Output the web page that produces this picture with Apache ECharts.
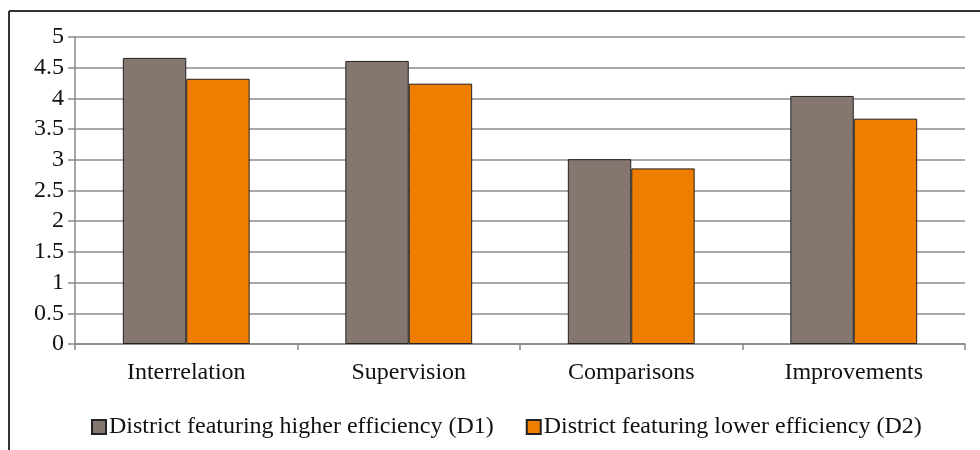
<!DOCTYPE html>
<html>
<head>
<meta charset="utf-8">
<script src="https://cdn.jsdelivr.net/npm/echarts@6/dist/echarts.min.js"></script>
<style>
  html, body { margin: 0; padding: 0; background: #fff; }
  #myChart { width: 980px; height: 450px; }
</style>
</head>
<body>
<div id="myChart"></div>
<script>
const categories = ['Interrelation', 'Supervision', 'Comparisons', 'Improvements'];
const seriesNames = ['District featuring higher efficiency (D1)', 'District featuring lower efficiency (D2)'];
const d1Values = [4.66, 4.61, 3.01, 4.04];
const d2Values = [4.32, 4.24, 2.86, 3.67];

const myChart = echarts.init(document.getElementById('myChart'));
const font = 'Liberation Serif';

const option = {
    animation: false,
    backgroundColor: '#fff',
    textStyle: { fontFamily: font },
    graphic: [
        // outer frame (top and left edges visible)
        { type: 'line', shape: { x1: 9, y1: 11, x2: 980, y2: 11 }, style: { stroke: '#333', lineWidth: 2 } },
        { type: 'line', shape: { x1: 9, y1: 11, x2: 9, y2: 450 }, style: { stroke: '#333', lineWidth: 2 } }
    ],
    grid: { left: 75, right: 15, top: 37, bottom: 106 },
    legend: {
        bottom: 6,
        left: 86,
        itemWidth: 14,
        itemHeight: 14,
        itemGap: 32,
        icon: 'rect',
        textStyle: { fontFamily: font, fontSize: 24, color: '#111', padding: [0, 0, 0, -2] }
    },
    xAxis: {
        type: 'category',
        data: categories,
        axisLine: { lineStyle: { color: '#888', width: 1.5 } },
        axisTick: { show: true, length: 6, lineStyle: { color: '#888', width: 1.5 } },
        axisLabel: { fontFamily: font, fontSize: 24, color: '#111', margin: 17 }
    },
    yAxis: {
        type: 'value',
        min: 0,
        max: 5,
        interval: 0.5,
        axisLine: { show: true, lineStyle: { color: '#888', width: 1.5 } },
        axisTick: { show: true, length: 7, lineStyle: { color: '#888', width: 1.5 } },
        axisLabel: { fontFamily: font, fontSize: 24, color: '#111', margin: 11 },
        splitLine: { lineStyle: { color: '#8c8c8c', width: 1.5 } }
    },
    series: [
        {
            name: seriesNames[0],
            type: 'bar',
            data: d1Values,
            barGap: '0%',
            barCategoryGap: '43%',
            itemStyle: { color: '#857670', borderColor: '#222', borderWidth: 1 }
        },
        {
            name: seriesNames[1],
            type: 'bar',
            data: d2Values,
            barGap: '0%',
            barCategoryGap: '43%',
            itemStyle: { color: '#ee7d00', borderColor: '#222', borderWidth: 1 }
        }
    ]
};

myChart.setOption(option);
</script>
</body>
</html>
